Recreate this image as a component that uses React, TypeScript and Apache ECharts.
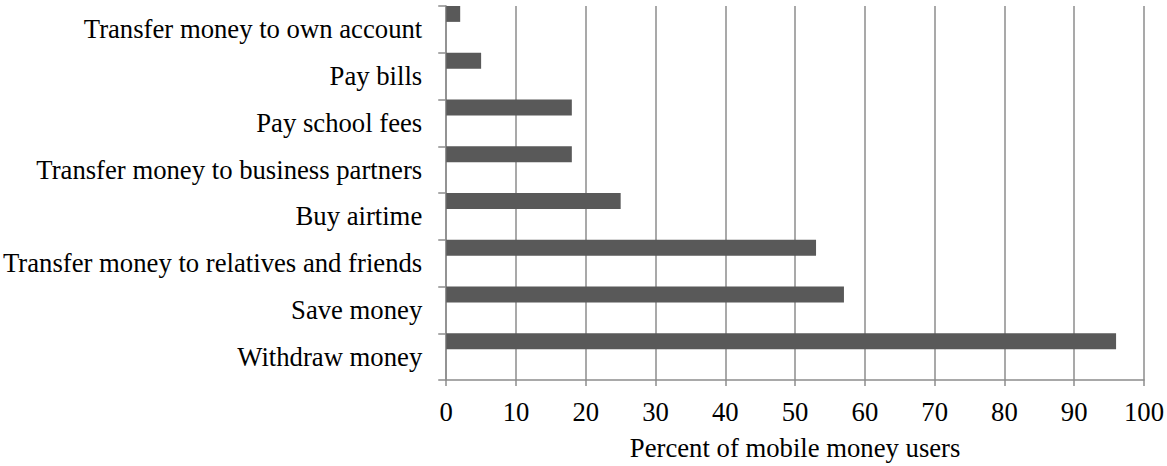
import React, { useEffect, useRef } from "react";
import * as echarts from "echarts";

const categories = [
  "Transfer money to own account",
  "Pay bills",
  "Pay school fees",
  "Transfer money to business partners",
  "Buy airtime",
  "Transfer money to relatives and friends",
  "Save money",
  "Withdraw money",
];
const values = [2, 5, 18, 18, 25, 53, 57, 96];
const xTicks = { min: 0, max: 100, interval: 10 };
const xTitle = "Percent of mobile money users";

export default function App() {
  const ref = useRef<HTMLDivElement>(null);
  useEffect(() => {
    const chart = echarts.init(ref.current!, null, { renderer: "svg" });
    const font = "Liberation Serif";
    const fs = 26.7;
    chart.setOption({
      animation: false,
      grid: { left: 446, right: 21, top: 6, bottom: 84 },
      xAxis: {
        type: "value",
        min: xTicks.min,
        max: xTicks.max,
        interval: xTicks.interval,
        name: xTitle,
        nameLocation: "middle",
        nameGap: 54,
        nameTextStyle: { fontFamily: font, fontSize: fs, color: "#000" },
        axisLine: { show: true, lineStyle: { color: "#8c8c8c", width: 1.5 } },
        axisTick: { show: true, length: 6, lineStyle: { color: "#8c8c8c", width: 1.5 } },
        axisLabel: { fontFamily: font, fontSize: fs, color: "#000", margin: 18 },
        splitLine: { show: true, lineStyle: { color: "#8c8c8c", width: 1.5 } },
      },
      yAxis: {
        type: "category",
        inverse: true,
        data: categories,
        axisLine: { show: true, lineStyle: { color: "#8c8c8c", width: 1.5 } },
        axisTick: { show: true, length: 8, lineStyle: { color: "#8c8c8c", width: 1.5 } },
        axisLabel: { fontFamily: font, fontSize: fs, color: "#000", margin: 24 },
        splitLine: { show: false },
      },
      series: [
        {
          type: "bar",
          data: values,
          barWidth: 16,
          barGap: "93.75%",
          itemStyle: { color: "#595959" },
        },
        {
          type: "bar",
          data: values.map(() => "-"),
          barWidth: 16,
          itemStyle: { color: "transparent" },
        },
      ],
    });
    return () => chart.dispose();
  }, []);
  return <div ref={ref} style={{ width: 1167, height: 466, position: "absolute", left: 0, top: 0 }} />;
}
